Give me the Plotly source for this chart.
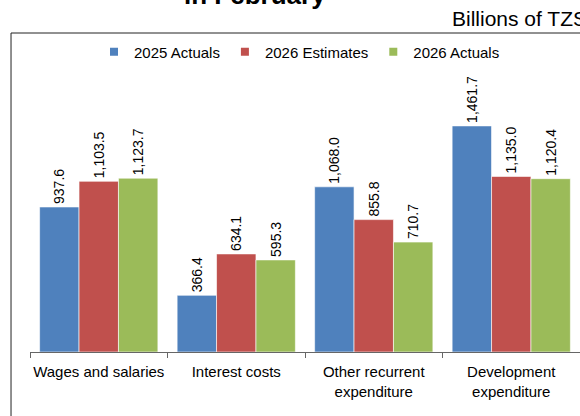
import plotly.graph_objects as go

# Expenditure categories and values (Billions of TZS)
categories = ["Wages and salaries", "Interest costs",
              "Other recurrent<br>expenditure", "Development<br>expenditure"]
actuals_2025 = [937.6, 366.4, 1068.0, 1461.7]
estimates_2026 = [1103.5, 634.1, 855.8, 1135.0]
actuals_2026 = [1123.7, 595.3, 710.7, 1120.4]

series = [
    ("2025 Actuals", actuals_2025, "#4F81BD"),
    ("2026 Estimates", estimates_2026, "#C0504D"),
    ("2026 Actuals", actuals_2026, "#9BBB59"),
]

FONT = "Liberation Sans, Arial, sans-serif"

fig = go.Figure()
for name, vals, color in series:
    fig.add_trace(go.Bar(
        x=categories, y=vals, name=name,
        marker=dict(color=color, line=dict(color="rgba(255,255,255,0.6)", width=1)),
        texttemplate="%{y:,.1f}", textposition="outside", textangle=-90,
        constraintext="none",
        textfont=dict(family=FONT, size=14, color="#000"),
        cliponaxis=False, showlegend=False,
    ))
    # small square legend keys
    fig.add_trace(go.Scatter(
        x=[None], y=[None], mode="markers", name=name,
        marker=dict(symbol="square", size=8, color=color),
    ))

fig.update_layout(
    width=580, height=416,
    margin=dict(l=30, r=0, t=40, b=64),
    paper_bgcolor="white", plot_bgcolor="white",
    barmode="group", bargap=0.14, bargroupgap=0,
    font=dict(family=FONT, size=15, color="#000"),
    legend=dict(orientation="h", x=0.49, xanchor="center", y=0.9615, yanchor="middle",
                font=dict(size=15), itemwidth=30, bgcolor="rgba(0,0,0,0)",
                tracegroupgap=0),
    xaxis=dict(showline=True, linecolor="#666", linewidth=1, ticks="outside",
               tickson="boundaries", ticklen=5, tickcolor="#666",
               ticklabelstandoff=6, tickangle=0,
               tickfont=dict(size=15), showgrid=False, fixedrange=True),
    yaxis=dict(range=[0, 2017], visible=False, showgrid=False, zeroline=False),
    showlegend=True,
)

# chart frame
fig.add_shape(type="rect", xref="paper", yref="paper",
              x0=-0.0345, x1=1.05, y0=-0.3, y1=1.0224,
              line=dict(color="#222", width=1), fillcolor="rgba(0,0,0,0)", layer="below")

fig.add_annotation(text="<b>in February</b>", xref="paper", yref="paper",
                   x=0.409, y=1.0897, xanchor="center", yanchor="bottom",
                   showarrow=False, font=dict(size=26, color="#000"))
fig.add_annotation(text="Billions of TZS", xref="paper", yref="paper",
                   x=0.7636, y=1.025, xanchor="left", yanchor="bottom",
                   showarrow=False, font=dict(size=21, color="#000"))

fig.write_html("out.html")
